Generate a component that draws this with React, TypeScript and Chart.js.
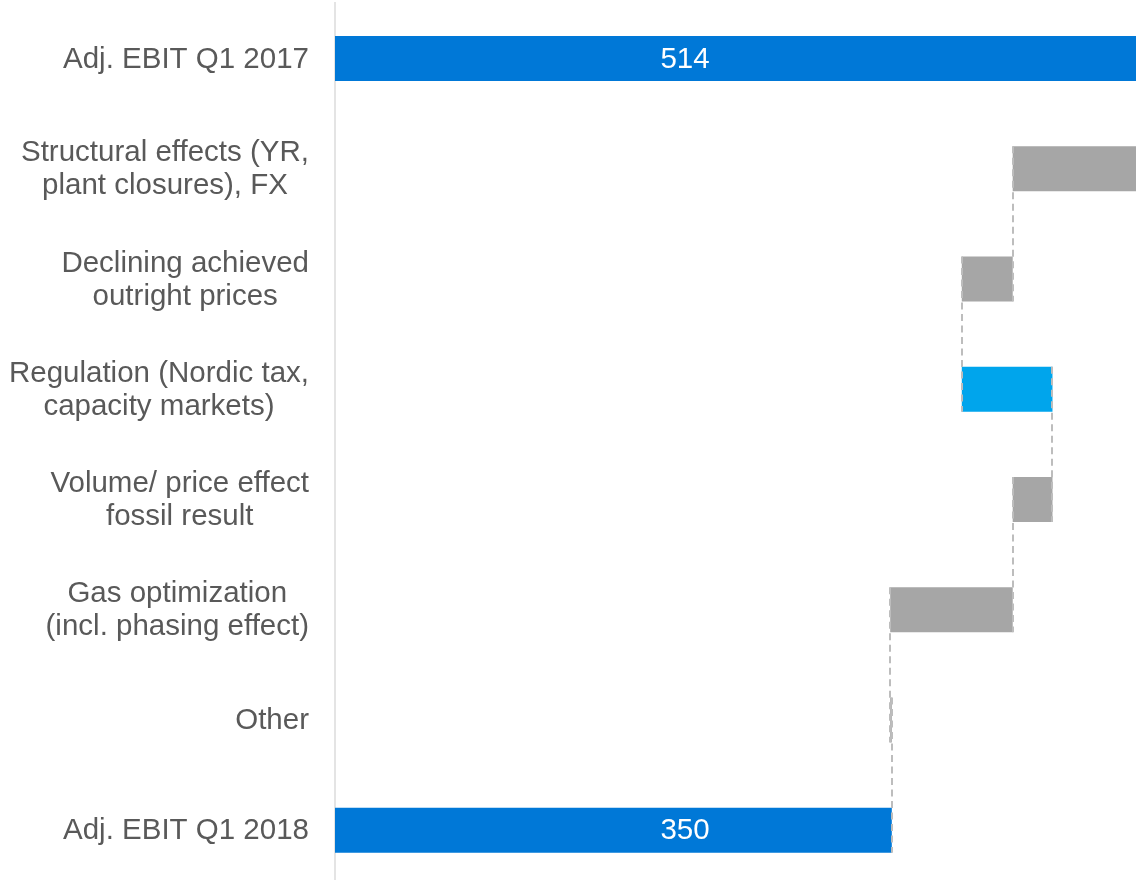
import { useEffect, useRef } from "react";
import { Chart, registerables } from "chart.js";

Chart.register(...registerables);

// ---- Data ----
const categories: string[][] = [
  ["Adj. EBIT Q1 2017"],
  ["Structural effects (YR,", "plant closures), FX"],
  ["Declining achieved", "outright prices"],
  ["Regulation (Nordic tax,", "capacity markets)"],
  ["Volume/ price effect", "fossil result"],
  ["Gas optimization", "(incl. phasing effect)"],
  ["Other"],
  ["Adj. EBIT Q1 2018"],
];
const startTotal = 514;
const deltas = [-88, -32, 57, -25, -77, 1];
const endTotal = 350;
const barKinds = ["total", "change", "change", "highlight", "change", "change", "change", "total"];
const valueLabels = ["514", "", "", "", "", "", "", "350"];
const valueLabelAnchor = 220; // value position where the total labels are centred
const xMax = 503.5;

// ---- Styles ----
const COLORS: Record<string, string> = {
  total: "#0078D7",
  highlight: "#00A5EC",
  change: "#A6A6A6",
};
const TEXT_COLOR = "#595959";
const FONT_FAMILY = '"Liberation Sans", Arial, Helvetica, sans-serif';

function buildRanges(): [number, number][] {
  const ranges: [number, number][] = [[0, startTotal]];
  let run = startTotal;
  for (const d of deltas) {
    const next = run + d;
    ranges.push([Math.min(run, next), Math.max(run, next)]);
    run = next;
  }
  ranges.push([0, endTotal]);
  return ranges;
}

function buildLevels(): number[] {
  // running level after each bar
  const levels: number[] = [startTotal];
  let run = startTotal;
  for (const d of deltas) {
    run += d;
    levels.push(run);
  }
  levels.push(endTotal);
  return levels;
}

export default function App() {
  const canvasRef = useRef<HTMLCanvasElement | null>(null);

  useEffect(() => {
    const canvas = canvasRef.current;
    if (!canvas) return;
    const ranges = buildRanges();
    const levels = buildLevels();

    const connectorPlugin = {
      id: "connectors",
      afterDatasetsDraw(chart: any) {
        const meta = chart.getDatasetMeta(0);
        const xs = chart.scales.x;
        const ctx = chart.ctx;
        ctx.save();
        ctx.strokeStyle = "#BDBDBD";
        ctx.lineWidth = 2;
        ctx.setLineDash([7, 4.5]);
        for (let i = 0; i < meta.data.length - 1; i++) {
          const a = meta.data[i];
          const b = meta.data[i + 1];
          const x = Math.round(xs.getPixelForValue(levels[i]));
          const top = a.y - a.height / 2;
          const bottom = b.y + b.height / 2;
          ctx.beginPath();
          ctx.moveTo(x, top);
          ctx.lineTo(x, bottom);
          ctx.stroke();
        }
        ctx.restore();

        // value labels on totals
        ctx.save();
        ctx.fillStyle = "#FFFFFF";
        ctx.font = `29.5px ${FONT_FAMILY}`;
        ctx.textAlign = "center";
        ctx.textBaseline = "middle";
        meta.data.forEach((el: any, i: number) => {
          if (!valueLabels[i]) return;
          ctx.fillText(valueLabels[i], xs.getPixelForValue(valueLabelAnchor), el.y + 1);
        });
        ctx.restore();
      },
    };

    const labelPlugin = {
      id: "catLabels",
      afterDraw(chart: any) {
        const ys = chart.scales.y;
        const ctx = chart.ctx;
        const rightX = chart.chartArea.left - 26;
        const lineH = 33;
        ctx.save();
        ctx.fillStyle = TEXT_COLOR;
        ctx.font = `29.5px ${FONT_FAMILY}`;
        ctx.textAlign = "center";
        ctx.textBaseline = "middle";
        categories.forEach((lines, i) => {
          const cy = ys.getPixelForValue(i);
          const w = Math.max(...lines.map((l) => ctx.measureText(l).width));
          const cx = rightX - w / 2;
          lines.forEach((l, j) => {
            ctx.fillText(l, cx, cy + (j - (lines.length - 1) / 2) * lineH + 1);
          });
        });
        ctx.restore();
      },
    };

    const chart = new Chart(canvas, {
      type: "bar",
      data: {
        labels: categories.map((c) => c.join(" ")),
        datasets: [
          {
            data: ranges as any,
            backgroundColor: barKinds.map((k) => COLORS[k]),
            borderWidth: 0,
            borderSkipped: false,
            categoryPercentage: 1,
            barPercentage: 0.408,
          },
        ],
      },
      options: {
        indexAxis: "y",
        responsive: false,
        animation: false,
        devicePixelRatio: 1,
        layout: { padding: { top: 3.4, bottom: 0.6, left: 0, right: 0 } },
        plugins: {
          legend: { display: false },
          tooltip: { enabled: false },
        },
        scales: {
          x: {
            display: false,
            min: 0,
            max: xMax,
          },
          y: {
            grid: { display: false, drawTicks: false },
            border: { display: true, color: "#E4E4E4", width: 2 },
            ticks: { display: false },
            afterFit: (scale: any) => {
              scale.width = 335;
            },
          },
        },
      },
      plugins: [connectorPlugin, labelPlugin],
    });

    return () => chart.destroy();
  }, []);

  return (
    <div
      style={{
        position: "fixed",
        left: 0,
        top: 0,
        width: 1136,
        height: 880,
        overflow: "hidden",
        background: "#FFFFFF",
      }}
    >
      <canvas ref={canvasRef} width={1136} height={886} style={{ display: "block" }} />
    </div>
  );
}
